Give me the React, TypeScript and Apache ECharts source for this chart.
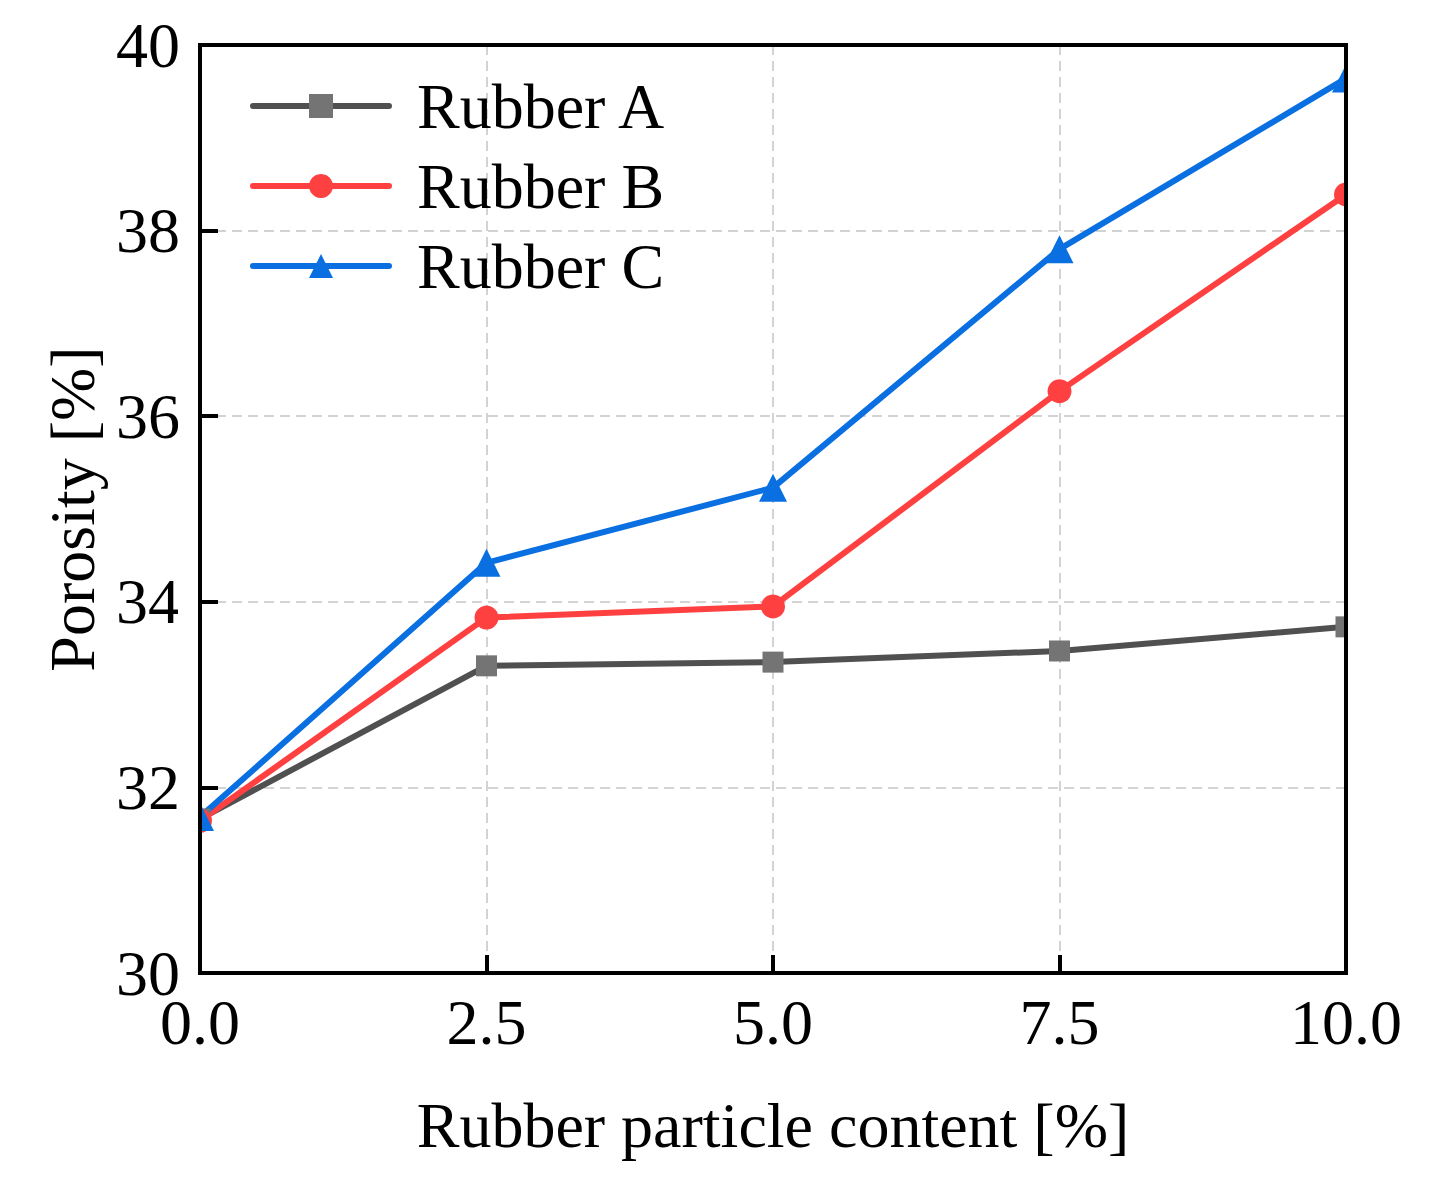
import React, { useEffect, useRef } from "react";
import * as echarts from "echarts";

const xValues = [0, 2.5, 5, 7.5, 10];
const rubberA = [31.66, 33.31, 33.35, 33.47, 33.73];
const rubberB = [31.64, 33.83, 33.95, 36.27, 38.39];
const rubberC = [31.68, 34.42, 35.23, 37.8, 39.64];
const seriesNames = ["Rubber A", "Rubber B", "Rubber C"];

const FONT = "'Times New Roman', 'Liberation Serif', serif";
const L = 200, R = 1346, T = 45, B = 973;
const W = 1435, H = 1190;

export default function App() {
  const ref = useRef<HTMLDivElement>(null);
  useEffect(() => {
    if (!ref.current) return;
    const chart = echarts.init(ref.current, null, { renderer: "svg" });
    const pair = (ys: number[]) => xValues.map((x, i) => [x, ys[i]]);
    const mk = (name: string, ys: number[], line: string, fill: string, symbol: string, size: number) => ({
      name,
      type: "line",
      data: pair(ys),
      symbol,
      symbolSize: size,
      clip: false,
      lineStyle: { color: line, width: 6 },
      itemStyle: { color: fill },
      emphasis: { disabled: true },
    });
    chart.setOption({
      animation: false,
      backgroundColor: "#fff",
      textStyle: { fontFamily: FONT },
      grid: {
        left: L, right: W - R, top: T, bottom: H - B,
        show: true, borderColor: "#000", borderWidth: 4,
        backgroundColor: "transparent", z: 100,
      },
      legend: {
        left: 250, top: 74, orient: "vertical", padding: 0,
        itemWidth: 136, itemHeight: 30, itemGap: 16,
        data: seriesNames,
        lineStyle: { width: 6, cap: "round" },
        textStyle: { fontFamily: FONT, fontSize: 64, color: "#000", padding: [0, 0, 0, 23] },
      },
      xAxis: {
        type: "value", min: 0, max: 10, interval: 2.5,
        name: "Rubber particle content [%]", nameLocation: "middle", nameGap: 120,
        nameTextStyle: { fontFamily: FONT, fontSize: 64, color: "#000" },
        axisLine: { show: false },
        axisTick: { show: true, inside: true, length: 18, lineStyle: { color: "#000", width: 4 } },
        axisLabel: { fontFamily: FONT, fontSize: 64, lineHeight: 48, color: "#000", margin: 25, formatter: (v: number) => v.toFixed(1) },
        splitLine: { show: true, lineStyle: { color: "#d3d3d3", width: 2, type: [10, 6] } },
      },
      yAxis: {
        type: "value", min: 30, max: 40, interval: 2,
        name: "Porosity [%]", nameLocation: "middle", nameGap: 96,
        nameTextStyle: { fontFamily: FONT, fontSize: 64, color: "#000" },
        axisLine: { show: false },
        axisTick: { show: true, inside: true, length: 18, lineStyle: { color: "#000", width: 4 } },
        axisLabel: { fontFamily: FONT, fontSize: 64, lineHeight: 48, color: "#000", margin: 20 },
        splitLine: { show: true, lineStyle: { color: "#d3d3d3", width: 2, type: [10, 6] } },
      },
      graphic: [
        { type: "rect", z: 50, silent: true, shape: { x: L - 22, y: T - 25, width: 20, height: B - T + 25 }, style: { fill: "#fff" } },
        { type: "rect", z: 50, silent: true, shape: { x: L - 22, y: T - 25, width: R - L + 50, height: 23 }, style: { fill: "#fff" } },
        { type: "rect", z: 50, silent: true, shape: { x: R + 2, y: T - 25, width: 25, height: B - T + 25 }, style: { fill: "#fff" } },
      ],
      series: [
        mk(seriesNames[0], rubberA, "#505050", "#747474", "rect", 21),
        mk(seriesNames[1], rubberB, "#ff4040", "#ff4040", "circle", 24),
        mk(seriesNames[2], rubberC, "#0a6fe0", "#0a6fe0", "triangle", 28),
      ],
    });
    return () => chart.dispose();
  }, []);
  return <div ref={ref} style={{ position: "absolute", left: 0, top: 0, width: W, height: H }} />;
}
